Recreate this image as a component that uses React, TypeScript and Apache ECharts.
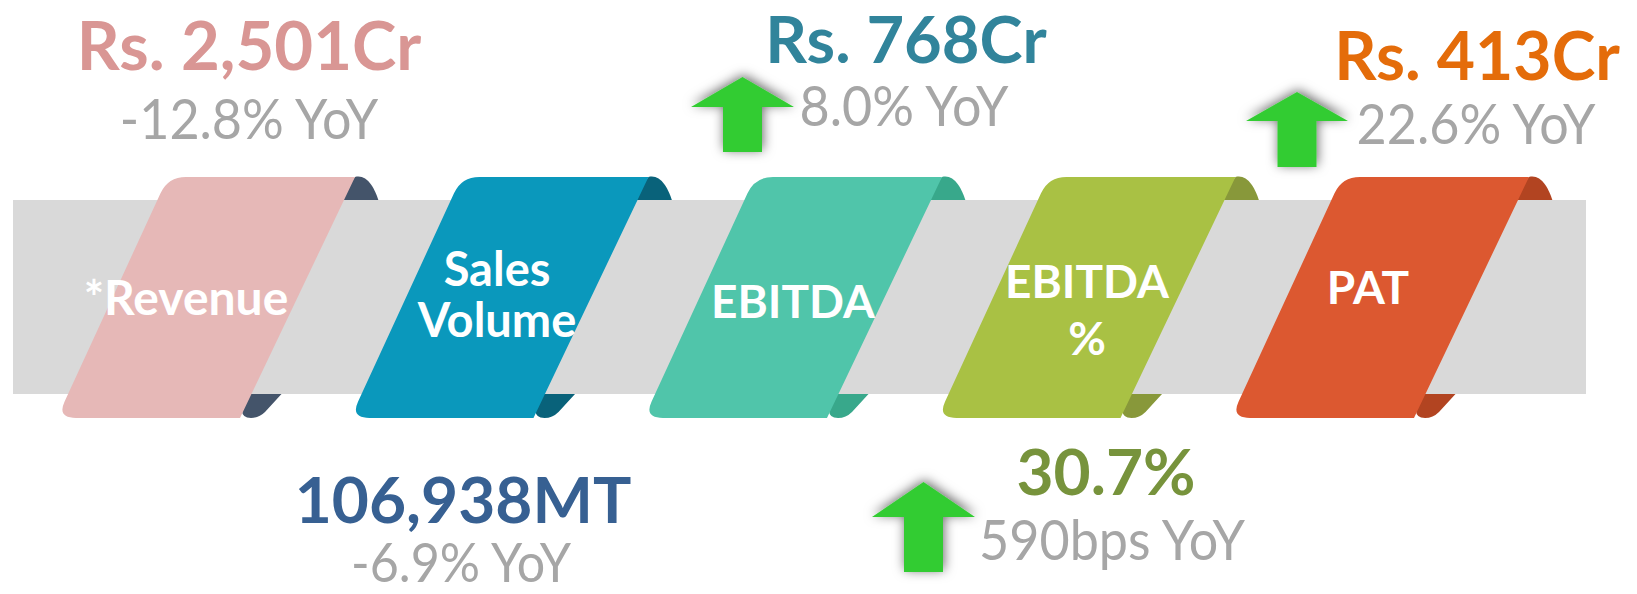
import React, { useEffect, useRef } from "react";
import * as echarts from "echarts";

// ---- data ----
const categories = ["*Revenue", "Sales\nVolume", "EBITDA", "EBITDA\n%", "PAT"];
const values = ["Rs. 2,501Cr", "106,938MT", "Rs. 768Cr", "30.7%", "Rs. 413Cr"];
const yoyTexts = ["-12.8% YoY", "-6.9% YoY", "8.0% YoY", "590bps YoY", "22.6% YoY"];
const growthUp = [false, false, true, true, true];

// ---- styles ----
const ribbonColors = ["#e6b8b7", "#0a98bc", "#50c5aa", "#a9c144", "#dc5830"];
const foldColors = ["#44546a", "#09627a", "#38a88b", "#88983a", "#b24421"];
const valueColors = ["#d99694", "#376092", "#31849b", "#77933c", "#e46c0a"];
const yoyColor = "#a6a6a6";

// ---- layout ----
const SPACING = 293.5;
const labelPos = [[186, 296], [497, 293], [793, 300], [1087, 309], [1368, 286]];
const labelSize = [48, 47, 46, 46, 46];
const labelLineHeight = [46, 51, 46, 57, 46];
const valuePos = [[249, 44], [463, 498], [906, 38], [1106, 470], [1477, 54]];
const valueSize = [67, 64, 65, 64, 66];
const yoyPos = [[249, 118], [461, 561], [904, 105], [1112, 539], [1476, 123]];
const yoySize = [56, 54, 56, 56, 56];
// arrow: cx, tipY, headBaseY, bottomY, headHalfW, shaftHalfW
const arrowGeom: Record<number, number[]> = {
  2: [742.5, 77, 107, 152, 51.5, 19.5],
  3: [923.5, 482, 517, 572, 51.5, 19.5],
  4: [1297, 92, 121, 167, 51, 19.5],
};

const BODY_PATH =
  "M186 177 L355 177 L240 418 L76 418 Q57 418 64.5 401.7 L160.5 193.3 Q168 177 186 177 Z";
const FOLD_TOP_PATH = "M333 206 L355 177 C366 174 375 186 380 206 Z";
const FOLD_BOTTOM_PATH = "M238 388 L287 388 L265 412 Q259 418 251 418 Q242 418 242 410 Z";

let registered = false;
function registerShapes() {
  if (registered) return;
  echarts.graphic.registerShape("ribbonBody", echarts.graphic.extendPath(BODY_PATH, {}));
  echarts.graphic.registerShape("ribbonFoldTop", echarts.graphic.extendPath(FOLD_TOP_PATH, {}));
  echarts.graphic.registerShape("ribbonFoldBottom", echarts.graphic.extendPath(FOLD_BOTTOM_PATH, {}));
  registered = true;
}

function textEl(x: number, y: number, text: string, fill: string, size: number, weight: string, scaleX = 1, lineHeight?: number) {
  return {
    type: "text",
    x,
    y,
    scaleX,
    z: 10,
    style: {
      text,
      x: 0,
      y: 0,
      fill,
      fontSize: size,
      fontWeight: weight,
      fontFamily: "Lato",
      lineHeight: lineHeight ?? Math.round(size * 0.75),
      align: "center",
      verticalAlign: "middle",
      textAlign: "center",
      textVerticalAlign: "middle",
    },
  };
}

export default function App() {
  const ref = useRef<HTMLDivElement>(null);
  useEffect(() => {
    if (!ref.current) return;
    registerShapes();
    const chart = echarts.init(ref.current, null, { renderer: "svg" });
    const elements: any[] = [];
    categories.forEach((_, i) => {
      const dx = i * SPACING;
      elements.push({ type: "ribbonFoldTop", x: dx, y: 0, z: 1, style: { fill: foldColors[i] } });
      elements.push({ type: "ribbonFoldBottom", x: dx, y: 0, z: 1, style: { fill: foldColors[i] } });
    });
    elements.push({ type: "rect", z: 2, shape: { x: 13, y: 200, width: 1573, height: 194 }, style: { fill: "#d9d9d9" } });
    categories.forEach((cat, i) => {
      const dx = i * SPACING;
      elements.push({ type: "ribbonBody", x: dx, y: 0, z: 3, style: { fill: ribbonColors[i] } });
      elements.push(textEl(labelPos[i][0], labelPos[i][1], cat, "#ffffff", labelSize[i], "bold", 1, labelLineHeight[i]));
      elements.push(textEl(valuePos[i][0], valuePos[i][1], values[i], valueColors[i], valueSize[i], "bold"));
      elements.push(textEl(yoyPos[i][0], yoyPos[i][1], yoyTexts[i], yoyColor, yoySize[i], "normal", 0.93));
      if (growthUp[i]) {
        const [cx, tip, base, bottom, hw, sw] = arrowGeom[i];
        elements.push({
          type: "polygon",
          z: 5,
          shape: {
            points: [
              [cx, tip], [cx + hw, base], [cx + sw, base], [cx + sw, bottom],
              [cx - sw, bottom], [cx - sw, base], [cx - hw, base],
            ],
          },
          style: {
            fill: "#33cc33",
            shadowBlur: 12,
            shadowColor: "rgba(0,0,0,0.6)",
            shadowOffsetX: 1,
            shadowOffsetY: -2,
          },
        });
      }
    });
    chart.setOption({ animation: false, graphic: { elements } });
    return () => chart.dispose();
  }, []);
  return (
    <div
      ref={ref}
      style={{ position: "absolute", left: 0, top: 0, width: 1637, height: 594, background: "#ffffff" }}
    />
  );
}
